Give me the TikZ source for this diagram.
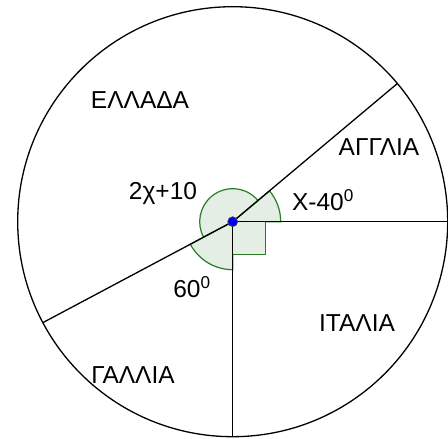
\documentclass[tikz,border=0pt]{standalone}
\usepackage{fontspec}
\setmainfont{Liberation Sans}
\usetikzlibrary{calc}
\definecolor{angstroke}{RGB}{40,125,40}
\definecolor{angfill}{RGB}{228,238,228}
\definecolor{dotblue}{RGB}{0,0,235}
\tikzset{
  lbl/.style={font=\fontsize{24.5}{27}\selectfont, inner sep=0pt},
  radius line/.style={line width=1.3pt, black},
  angmark/.style={draw=angstroke, fill=angfill, line width=1.2pt},
}
\begin{document}
\begin{tikzpicture}[x=1pt,y=1pt]
\useasboundingbox (0,0) rectangle (448,439);
\coordinate (O) at (232.7,217.3);
% angle marks
\filldraw[angmark] (O) -- ++(0:48) arc[start angle=0,end angle=40,radius=48] -- cycle;
\filldraw[angmark] (O) -- ++(40:33) arc[start angle=40,end angle=208,radius=33] -- cycle;
\filldraw[angmark] (O) -- ++(208:48) arc[start angle=208,end angle=270,radius=48] -- cycle;
\filldraw[angmark] (O) rectangle ++(33,-33);
% circle and radii
\node[draw, circle, line width=1.3pt, minimum size=430pt, inner sep=0pt] (C) at (O) {};
\coordinate (E) at ($(O)+(0:215)$);
\coordinate (NE) at ($(O)+(40:215)$);
\coordinate (SW) at ($(O)+(208:215)$);
\coordinate (S) at ($(O)+(270:215)$);
\draw[radius line] (O) -- (E);
\draw[radius line] (O) -- (NE);
\draw[radius line] (O) -- (SW);
\draw[radius line] (O) -- (S);
\node[circle, fill=dotblue, draw=black!70, line width=0.6pt, minimum size=10pt, inner sep=0pt] (dot) at (O) {};
% labels
\node[lbl] (ellada) at (140,339) {ΕΛΛΑΔΑ};
\node[lbl] (anglia) at (379,292) {ΑΓΓΛΙΑ};
\node[lbl] (italia) at (357,116) {ΙΤΑΛΙΑ};
\node[lbl] (gallia) at (133,64) {ΓΑΛΛΙΑ};
\node[lbl] (a1) at (163,246) {2χ+10};
\node[lbl] (a2) at (323,239) {Χ-40\textsuperscript{0}};
\node[lbl] (a3) at (192,152) {60\textsuperscript{0}};
\end{tikzpicture}
\end{document}
